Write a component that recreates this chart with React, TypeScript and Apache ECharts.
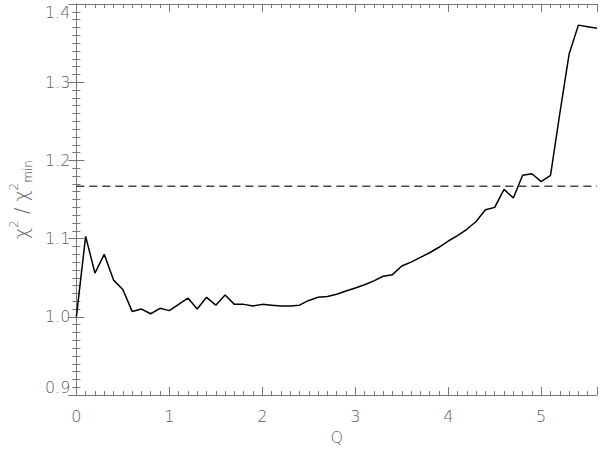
import React, { useEffect, useRef } from "react";
import * as echarts from "echarts";

const qValues = [
  0.0, 0.1, 0.2, 0.3, 0.4, 0.5, 0.6, 0.7, 0.8, 0.9,
  1.0, 1.1, 1.2, 1.3, 1.4, 1.5, 1.6, 1.7, 1.8, 1.9,
  2.0, 2.1, 2.2, 2.3, 2.4, 2.5, 2.6, 2.7, 2.8, 2.9,
  3.0, 3.1, 3.2, 3.3, 3.4, 3.5, 3.6, 3.7, 3.8, 3.9,
  4.0, 4.1, 4.2, 4.3, 4.4, 4.5, 4.6, 4.7, 4.8, 4.9,
  5.0, 5.1, 5.2, 5.3, 5.4, 5.5, 5.6,
];

const chiRatio = [
  1.000, 1.103, 1.056, 1.080, 1.047, 1.035, 1.007, 1.010, 1.004, 1.011,
  1.008, 1.016, 1.024, 1.010, 1.025, 1.015, 1.028, 1.016, 1.016, 1.014,
  1.016, 1.015, 1.014, 1.014, 1.015, 1.021, 1.025, 1.026, 1.029, 1.033,
  1.037, 1.041, 1.046, 1.052, 1.054, 1.065, 1.070, 1.076, 1.082, 1.089,
  1.097, 1.104, 1.112, 1.122, 1.137, 1.140, 1.163, 1.152, 1.181, 1.183,
  1.173, 1.181, 1.260, 1.336, 1.373, 1.371, 1.369,
];

const thresholdValue = 1.167;
const xRange = [0, 5.6];
const yRange = [0.9, 1.4];

export default function App() {
  const ref = useRef<HTMLDivElement>(null);

  useEffect(() => {
    if (!ref.current) return;
    const chart = echarts.init(ref.current, null, { renderer: "svg" });
    const axisColor = "#777";
    const labelColor = "#606060";
    const font = "DejaVu Sans";

    const commonAxisLine = { show: true, lineStyle: { color: axisColor, width: 1 } };
    const commonTick = { show: true, inside: true, length: 8, lineStyle: { color: axisColor } };
    const commonMinor = { show: true, splitNumber: 10, length: 4, lineStyle: { color: axisColor } };

    chart.setOption({
      animation: false,
      backgroundColor: "#fff",
      grid: { left: 73, right: 3, top: 4, bottom: 54 },
      xAxis: [
        {
          type: "value",
          min: xRange[0],
          max: xRange[1],
          interval: 1,
          axisLine: commonAxisLine,
          axisTick: commonTick,
          minorTick: commonMinor,
          splitLine: { show: false },
          axisLabel: {
            color: labelColor,
            fontFamily: font,
            fontSize: 16,
            fontWeight: 300,
            margin: 13,
            showMaxLabel: false,
          },
          name: "Q",
          nameLocation: "middle",
          nameGap: 32,
          nameTextStyle: { color: labelColor, fontFamily: font, fontSize: 16, fontWeight: 300 },
        },
        {
          type: "value",
          position: "top",
          min: xRange[0],
          max: xRange[1],
          interval: 1,
          axisLine: commonAxisLine,
          axisTick: commonTick,
          minorTick: commonMinor,
          splitLine: { show: false },
          axisLabel: { show: false },
        },
      ],
      yAxis: [
        {
          type: "value",
          min: yRange[0],
          max: yRange[1],
          interval: 0.1,
          axisLine: commonAxisLine,
          axisTick: commonTick,
          minorTick: commonMinor,
          splitLine: { show: false },
          axisLabel: {
            color: labelColor,
            fontFamily: font,
            fontSize: 16,
            fontWeight: 300,
            margin: 6,
            formatter: (v: number) => v.toFixed(1),
            verticalAlignMaxLabel: "top",
            verticalAlignMinLabel: "bottom",
          },
          name: "{b|χ}{sup|2}{b| / χ}{sup|2}{sub|min}",
          nameLocation: "middle",
          nameRotate: 90,
          nameGap: 40,
          nameTextStyle: {
            color: labelColor,
            fontFamily: font,
            rich: {
              b: { fontSize: 19, lineHeight: 26, color: labelColor, fontFamily: font, fontWeight: 300, verticalAlign: "middle" },
              sup: { fontSize: 12, lineHeight: 12, color: labelColor, fontFamily: font, fontWeight: 300, verticalAlign: "top" },
              sub: { fontSize: 12, lineHeight: 12, color: labelColor, fontFamily: font, fontWeight: 300, verticalAlign: "bottom" },
            },
          },
        },
        {
          type: "value",
          position: "right",
          min: yRange[0],
          max: yRange[1],
          interval: 0.1,
          axisLine: commonAxisLine,
          axisTick: commonTick,
          minorTick: commonMinor,
          splitLine: { show: false },
          axisLabel: { show: false },
        },
      ],
      series: [
        {
          type: "line",
          data: qValues.map((q, i) => [q, chiRatio[i]]),
          showSymbol: false,
          symbol: "none",
          lineStyle: { color: "#000", width: 1.5 },
          silent: true,
        },
        {
          type: "line",
          data: [
            [xRange[0], thresholdValue],
            [xRange[1], thresholdValue],
          ],
          symbol: "none",
          lineStyle: { color: "#444", width: 1.5, type: [8, 5] },
          silent: true,
        },
      ],
    });
    return () => chart.dispose();
  }, []);

  return (
    <div
      ref={ref}
      style={{ position: "absolute", left: 0, top: 0, width: 600, height: 450 }}
    />
  );
}
